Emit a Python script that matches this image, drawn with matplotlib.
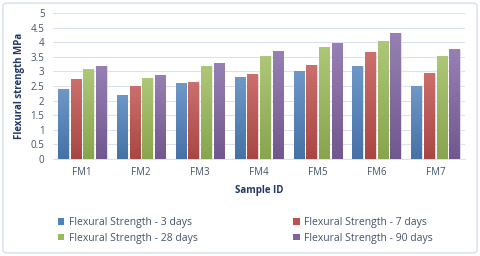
import matplotlib
matplotlib.use("Agg")
import matplotlib.pyplot as plt
import numpy as np
from matplotlib.patches import FancyBboxPatch, Patch
from matplotlib.colors import to_rgb

categories = ["FM1", "FM2", "FM3", "FM4", "FM5", "FM6", "FM7"]
series_names = ["Flexural Strength - 3 days", "Flexural Strength - 7 days",
                "Flexural Strength - 28 days", "Flexural Strength - 90 days"]
d3 = [2.4, 2.2, 2.6, 2.8, 3.0, 3.2, 2.5]
d7 = [2.73, 2.5, 2.63, 2.9, 3.23, 3.65, 2.95]
d28 = [3.08, 2.77, 3.18, 3.54, 3.83, 4.05, 3.54]
d90 = [3.19, 2.88, 3.28, 3.69, 3.98, 4.3, 3.78]
yticks = [0, 0.5, 1, 1.5, 2, 2.5, 3, 3.5, 4, 4.5, 5]

colors = ["#4F81BD", "#C0504D", "#9BBB59", "#8064A2"]
txt = "#44546A"
lab = "#1F3864"
plt.rcParams['font.family'] = ['Open Sans', 'DejaVu Sans']

fig = plt.figure(figsize=(4.8, 2.56), dpi=100)
fig.patches.append(FancyBboxPatch((0.006, 0.012), 0.988, 0.976,
                                  boxstyle="round,pad=0,rounding_size=0.01",
                                  transform=fig.transFigure, fc="white",
                                  ec="#D6DFEE", lw=1.0, zorder=-1))
ax = fig.add_axes([0.110, 0.379, 0.859, 0.570])
ax.set_facecolor("none")
x = np.arange(len(categories))
step = 0.215
w = 0.18


def shade(c, f):
    r = np.array(to_rgb(c))
    if f >= 0:
        return r + (1 - r) * f
    return r * (1 + f)


for i, (vals, c) in enumerate(zip([d3, d7, d28, d90], colors)):
    bars = ax.bar(x + (i - 1.5) * step, vals, width=w, color=c, zorder=3,
                  edgecolor="white", linewidth=0.4)
    top = shade(c, 0.18)
    bot = shade(c, -0.12)
    grad = np.linspace(0, 1, 64)[:, None, None]
    img = top[None, None, :] * grad + bot[None, None, :] * (1 - grad)
    for b in bars:
        x0, y0 = b.get_x(), b.get_y()
        bw, bh = b.get_width(), b.get_height()
        im = ax.imshow(img, extent=[x0, x0 + bw, y0, y0 + bh], origin="lower",
                       aspect="auto", zorder=3.5, interpolation="bilinear")
        im.set_clip_path(b)

ax.set_xlim(-0.5, len(categories) - 0.5)
ax.set_ylim(0, 5)
ax.set_yticks(yticks)
ax.set_yticklabels([f"{t:g}" for t in yticks], fontsize=7, color=txt)
ax.set_xticks(x)
ax.set_xticklabels(categories, fontsize=7, color=txt)
ax.tick_params(length=0, pad=6)
ax.grid(axis='y', color="#D9E1F2", lw=0.8, zorder=0)
for s in ["top", "right", "left"]:
    ax.spines[s].set_visible(False)
ax.spines["bottom"].set_color("#D9E1F2")
ax.set_ylabel("Flexural strength MPa", fontsize=7, fontweight="bold", color=lab, labelpad=4)
ax.set_xlabel("Sample ID", fontsize=7, fontweight="bold", color=lab, labelpad=5)

handles = [Patch(facecolor=c) for c in colors]
order = [0, 2, 1, 3]
leg = fig.legend([handles[i] for i in order], [series_names[i] for i in order],
                 ncol=2, loc="center", bbox_to_anchor=(0.511, 0.100), frameon=False,
                 fontsize=7.5, handlelength=0.6, handleheight=0.6, handletextpad=0.4,
                 columnspacing=9.2, labelspacing=0.45)
for t in leg.get_texts():
    t.set_color(txt)
fig.savefig("out.png", dpi=100)
